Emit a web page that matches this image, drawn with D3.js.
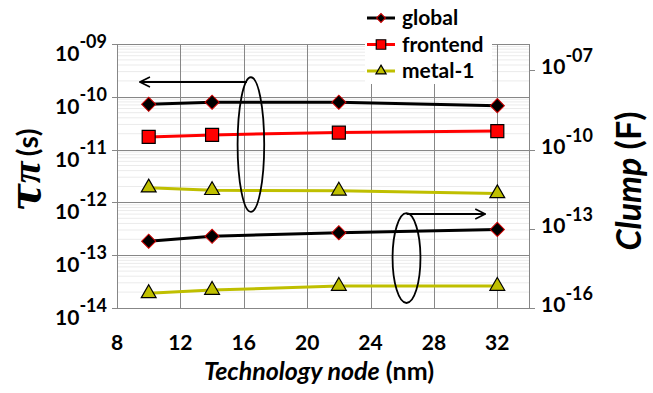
<!DOCTYPE html>
<html>
<head>
<meta charset="utf-8">
<script src="https://cdn.jsdelivr.net/npm/d3@7"></script>
<style>
  body { margin: 0; background: #fff; }
  svg { display: block; font-family: Lato, "Open Sans", sans-serif; font-weight: bold; }
</style>
</head>
<body>
<div id="plot-container"></div>
<script>
// Technology nodes (nm)
const nodes = [10, 14, 22, 32];
const xTicks = [8, 12, 16, 20, 24, 28, 32];

// tau_pi (s), left axis
const tauGlobal = [7.2e-11, 7.9e-11, 7.9e-11, 6.8e-11];
const tauFrontend = [1.74e-11, 1.9e-11, 2.1e-11, 2.24e-11];
const tauMetal1 = [1.9e-12, 1.7e-12, 1.66e-12, 1.48e-12];

// Clump (F), right axis
const clumpGlobal = [3.4e-14, 5.2e-14, 7.1e-14, 9.5e-14];
const clumpMetal1 = [3.6e-16, 4.8e-16, 6.8e-16, 6.8e-16];

const leftTickExp = [-9, -10, -11, -12, -13, -14];
const rightTickExp = [-7, -10, -13, -16];

const legendNames = ["global", "frontend", "metal-1"];

// annotation ellipses / arrows, in data units
const leftMark = {x: 16.45, yTop: Math.pow(10, -9.63), yBot: Math.pow(10, -12.18), rx: 0.84,
                  arrowY: Math.pow(10, -9.72), arrowFrom: 16.2, arrowTo: 9.45};
const rightMark = {x: 26.27, yTop: Math.pow(10, -12.41), yBot: Math.pow(10, -15.81), rx: 0.88,
                   arrowY: Math.pow(10, -12.44), arrowFrom: 26.27, arrowTo: 31.24};

const W = 653, H = 393;
const margin = {top: 44, right: 124, bottom: 85, left: 117};
const width = W - margin.left - margin.right,
      height = H - margin.top - margin.bottom;

const svgRoot = d3.select("#plot-container").append("svg")
    .attr("width", W).attr("height", H);

const defs = svgRoot.append("defs");
defs.append("marker")
    .attr("id", "arrow")
    .attr("viewBox", "0 0 12 12")
    .attr("refX", 11).attr("refY", 6)
    .attr("markerWidth", 12).attr("markerHeight", 12)
    .attr("markerUnits", "userSpaceOnUse")
    .attr("orient", "auto")
    .append("path")
    .attr("d", "M1,1 L11,6 L1,11")
    .attr("fill", "none").attr("stroke", "#000").attr("stroke-width", 1.6);

const svg = svgRoot.append("g")
    .attr("transform", `translate(${margin.left}, ${margin.top})`);

const x = d3.scaleLinear().domain([8, 34]).range([0, width]);
const yL = d3.scaleLog().domain([1e-14, 1e-9]).range([height, 0]);
const yR = d3.scaleLog().domain([1e-16, 1e-6]).range([height, 0]);

const gridCol = "#878787";

// minor gridlines
const minor = [];
for (let e = -14; e < -9; e++) {
    for (let m = 2; m <= 9; m++) minor.push(m * Math.pow(10, e));
}
svg.append("g").selectAll("line")
    .data(minor).join("line")
    .attr("x1", 0).attr("x2", width)
    .attr("y1", d => yL(d)).attr("y2", d => yL(d))
    .attr("stroke", "#ebebeb").attr("stroke-width", 1);

// major horizontal gridlines
svg.append("g").selectAll("line")
    .data(leftTickExp).join("line")
    .attr("x1", -5).attr("x2", width)
    .attr("y1", d => Math.round(yL(Math.pow(10, d))) + 0.5)
    .attr("y2", d => Math.round(yL(Math.pow(10, d))) + 0.5)
    .attr("stroke", gridCol);

// vertical gridlines
svg.append("g").selectAll("line")
    .data(xTicks.concat([34])).join("line")
    .attr("x1", d => Math.round(x(d)) + 0.5).attr("x2", d => Math.round(x(d)) + 0.5)
    .attr("y1", 0).attr("y2", height)
    .attr("stroke", gridCol);

// right axis ticks
svg.append("g").selectAll("line")
    .data(rightTickExp).join("line")
    .attr("x1", width).attr("x2", width + 6)
    .attr("y1", d => Math.round(yR(Math.pow(10, d))) + 0.5)
    .attr("y2", d => Math.round(yR(Math.pow(10, d))) + 0.5)
    .attr("stroke", gridCol);

// left tick labels
const lLab = svg.append("g").selectAll("text")
    .data(leftTickExp).join("text")
    .attr("x", -10).attr("y", d => yL(Math.pow(10, d)) + 17)
    .attr("text-anchor", "end")
    .attr("fill", "#000");
lLab.append("tspan").attr("font-size", 21).text("10");
lLab.append("tspan").attr("font-size", 18).attr("dy", -13)
    .text(d => "-" + String(-d).padStart(2, "0"));

// right tick labels
const rLab = svg.append("g").selectAll("text")
    .data(rightTickExp).join("text")
    .attr("x", width + 12).attr("y", d => yR(Math.pow(10, d)) + 4)
    .attr("text-anchor", "start")
    .attr("fill", "#000");
rLab.append("tspan").attr("font-size", 21).text("10");
rLab.append("tspan").attr("font-size", 18).attr("dy", -12)
    .text(d => "-" + String(-d).padStart(2, "0"));

// x tick labels
svg.append("g").selectAll("text")
    .data(xTicks).join("text")
    .attr("x", d => x(d)).attr("y", height + 42)
    .attr("text-anchor", "middle")
    .attr("font-size", 21)
    .text(d => d);

// series
const series = [
    {vals: tauGlobal, y: yL, color: "#000", shape: "diamond"},
    {vals: tauFrontend, y: yL, color: "#ff0000", shape: "square"},
    {vals: tauMetal1, y: yL, color: "#bfbf00", shape: "triangle"},
    {vals: clumpGlobal, y: yR, color: "#000", shape: "diamond"},
    {vals: clumpMetal1, y: yR, color: "#bfbf00", shape: "triangle"}
];

function markerPath(shape, big) {
    if (shape === "diamond") return d3.symbol(d3.symbolSquare, big ? 100 : 40)();
    if (shape === "square") return d3.symbol(d3.symbolSquare, big ? 169 : 90)();
    return d3.symbol(d3.symbolTriangle, big ? 95 : 45)();
}
function styleMarker(sel, shape) {
    if (shape === "diamond") {
        sel.attr("fill", "#000").attr("stroke", "#d00000").attr("stroke-width", 1);
    } else if (shape === "square") {
        sel.attr("fill", "#ff0000").attr("stroke", "#000").attr("stroke-width", 1.2);
    } else {
        sel.attr("fill", "#bfbf00").attr("stroke", "#000").attr("stroke-width", 1.2);
    }
}

series.forEach(s => {
    const pts = nodes.map((n, i) => ({x: n, v: s.vals[i]}));
    svg.append("path")
        .datum(pts)
        .attr("fill", "none")
        .attr("stroke", s.color)
        .attr("stroke-width", 3)
        .attr("d", d3.line().x(d => x(d.x)).y(d => s.y(d.v)));
    svg.append("g").selectAll("path")
        .data(pts).join("path")
        .attr("d", markerPath(s.shape, true))
        .attr("transform", d => `translate(${x(d.x)},${s.y(d.v)})` + (s.shape === "diamond" ? " rotate(45)" : ""))
        .call(styleMarker, s.shape);
});

// annotations
function drawMark(m, yS) {
    const cy = (yS(m.yTop) + yS(m.yBot)) / 2;
    svg.append("ellipse")
        .attr("cx", x(m.x)).attr("cy", cy)
        .attr("rx", x(m.x + m.rx) - x(m.x))
        .attr("ry", (yS(m.yBot) - yS(m.yTop)) / 2)
        .attr("fill", "none").attr("stroke", "#000").attr("stroke-width", 1.8);
    svg.append("line")
        .attr("x1", x(m.arrowFrom)).attr("x2", x(m.arrowTo))
        .attr("y1", yS(m.arrowY)).attr("y2", yS(m.arrowY))
        .attr("stroke", "#000").attr("stroke-width", 1.8)
        .attr("marker-end", "url(#arrow)");
}
drawMark(leftMark, yL);
drawMark(rightMark, yR);

// legend
const lg = svgRoot.append("g").attr("transform", "translate(365, 4)");
lg.append("rect").attr("x", 0).attr("y", 0).attr("width", 127).attr("height", 80).attr("fill", "#fff");
const legendShapes = ["diamond", "square", "triangle"];
const legendColors = ["#000", "#ff0000", "#bfbf00"];
legendNames.forEach((name, i) => {
    const row = lg.append("g").attr("transform", `translate(0, ${14 + i * 26.5})`);
    row.append("line").attr("x1", 2).attr("x2", 30).attr("y1", 0).attr("y2", 0)
        .attr("stroke", legendColors[i]).attr("stroke-width", 3);
    row.append("path")
        .attr("d", markerPath(legendShapes[i], false))
        .attr("transform", "translate(16,0)" + (legendShapes[i] === "diamond" ? " rotate(45)" : ""))
        .call(styleMarker, legendShapes[i]);
    row.append("text").attr("x", 37).attr("y", 7).attr("font-size", 21).text(name);
});

// axis titles
svgRoot.append("text")
    .attr("x", 319).attr("y", 380)
    .attr("text-anchor", "middle").attr("font-size", 25)
    .call(t => {
        t.append("tspan").attr("font-style", "italic").text("Technology node");
        t.append("tspan").text(" (nm)");
    });

svgRoot.append("text")
    .attr("transform", "translate(641, 181) rotate(-90)")
    .attr("text-anchor", "middle").attr("font-size", 34)
    .call(t => {
        t.append("tspan").attr("font-style", "italic").text("Clump");
        t.append("tspan").text(" (F)");
    });

svgRoot.append("text")
    .attr("transform", "translate(40, 170) rotate(-90)")
    .attr("text-anchor", "middle")
    .call(t => {
        t.append("tspan").attr("font-family", "DejaVu Serif").attr("font-style", "italic")
            .attr("font-size", 42).text("τ");
        t.append("tspan").attr("font-family", "Liberation Serif").attr("font-style", "italic")
            .attr("font-size", 40).text("π");
        t.append("tspan").attr("font-size", 28).attr("dx", 5).attr("dy", -2).text("(s)");
    });
</script>
</body>
</html>
